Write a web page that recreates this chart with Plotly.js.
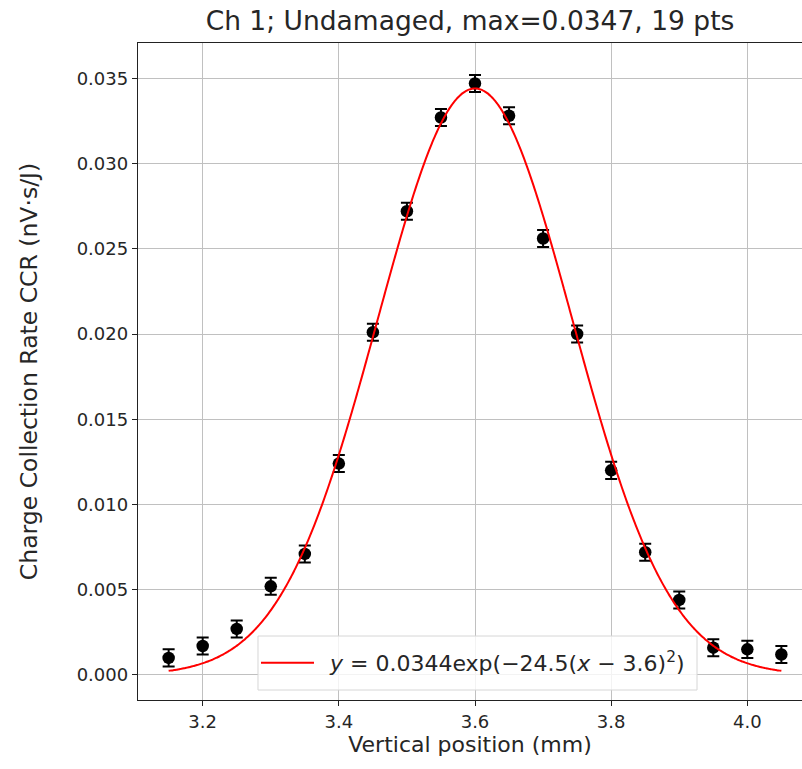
<!DOCTYPE html>
<html>
<head>
<meta charset="utf-8">
<script src="https://cdn.plot.ly/plotly-3.0.1.min.js"></script>
<style>
  html, body { margin: 0; padding: 0; background: #fff; overflow: hidden; }
  #chart { width: 802px; height: 769px; }
</style>
</head>
<body>
<div id="chart"></div>
<script>
// Scan positions (mm) and measured charge collection rate (nV·s/J)
const positions = [3.15, 3.20, 3.25, 3.30, 3.35, 3.40, 3.45, 3.50, 3.55, 3.60,
                   3.65, 3.70, 3.75, 3.80, 3.85, 3.90, 3.95, 4.00, 4.05];
const ccr = [0.0010, 0.0017, 0.0027, 0.0052, 0.0071, 0.0124, 0.0201, 0.0272, 0.0327, 0.0347,
             0.0328, 0.0256, 0.0200, 0.0120, 0.0072, 0.0044, 0.0016, 0.0015, 0.0012];
const ccrErr = [0.0005, 0.0005, 0.0005, 0.0005, 0.0005, 0.0005, 0.0005, 0.0005, 0.0005, 0.0005,
                0.0005, 0.0005, 0.0005, 0.0005, 0.0005, 0.0005, 0.0005, 0.0005, 0.0005];

// Gaussian fit parameters: y = A exp(-k (x - mu)^2)
const fitA = 0.0344;
const fitK = 24.5;
const fitMu = 3.6;

const fitX = [];
const fitY = [];
const nFit = 400;
const x0 = positions[0], x1 = positions[positions.length - 1];
for (let i = 0; i <= nFit; i++) {
  const x = x0 + (x1 - x0) * i / nFit;
  fitX.push(x);
  fitY.push(fitA * Math.exp(-fitK * (x - fitMu) * (x - fitMu)));
}

const font = "DejaVu Sans, sans-serif";
const textColor = '#262626';
const fitColor = '#ff0000';

const traces = [
  {
    x: positions, y: ccr, type: 'scatter', mode: 'markers',
    marker: { color: 'black', size: 12.5 },
    error_y: { type: 'data', array: ccrErr, visible: true, color: 'black', thickness: 2, width: 6 },
    showlegend: false, hoverinfo: 'x+y'
  },
  {
    x: fitX, y: fitY, type: 'scatter', mode: 'lines',
    line: { color: fitColor, width: 2, shape: 'spline' },
    name: '\u2002<i>y</i> = 0.0344exp(−24.5(<i>x</i> − 3.6)<sup>2</sup>)'
  }
];

const layout = {
  width: 802, height: 769,
  margin: { l: 138, r: 0, t: 43, b: 69 },
  paper_bgcolor: 'white', plot_bgcolor: 'white',
  font: { family: font, size: 18, color: textColor },
  title: {
    text: 'Ch 1; Undamaged, max=0.0347, 19 pts',
    font: { family: font, size: 26.5, color: textColor },
    x: 0.5, xref: 'paper', y: 1, yref: 'paper', yanchor: 'bottom', pad: { b: 13 }
  },
  xaxis: {
    range: [3.105, 4.0803],
    tick0: 3.2, dtick: 0.2, tickformat: '.1f',
    showgrid: true, gridcolor: '#c0c0c0', gridwidth: 1,
    zeroline: false,
    showline: true, linecolor: '#222', linewidth: 1.2, mirror: true,
    ticks: 'outside', ticklen: 5, tickcolor: '#222',
    tickfont: { family: font, size: 18, color: textColor },
    title: { text: 'Vertical position (mm)', font: { family: font, size: 22, color: textColor }, standoff: 0 }
  },
  yaxis: {
    range: [-0.00147, 0.03707],
    tick0: 0, dtick: 0.005, tickformat: '.3f',
    showgrid: true, gridcolor: '#c0c0c0', gridwidth: 1,
    zeroline: false,
    showline: true, linecolor: '#222', linewidth: 1.2, mirror: false,
    ticks: 'outside', ticklen: 5, tickcolor: '#222',
    tickfont: { family: font, size: 18, color: textColor },
    title: { text: 'Charge Collection Rate CCR (nV·s/J)', font: { family: font, size: 23.5, color: textColor }, standoff: 32 }
  },
  legend: {
    x: 0.1777, y: 0.0563, xanchor: 'left', yanchor: 'middle',
    bgcolor: 'rgba(0,0,0,0)', borderwidth: 0, itemwidth: 53,
    font: { family: font, size: 22, color: textColor }
  },
  shapes: [
    // legend frame
    {
      type: 'rect', xref: 'paper', yref: 'paper', layer: 'above',
      x0: 0.1807, x1: 0.8419, y0: 0.0152, y1: 0.0974,
      line: { color: '#d6d6d6', width: 1 }, fillcolor: 'rgba(255,255,255,0.8)'
    }
  ],
  showlegend: true
};

Plotly.newPlot('chart', traces, layout, { displayModeBar: false, staticPlot: true });
</script>
</body>
</html>
